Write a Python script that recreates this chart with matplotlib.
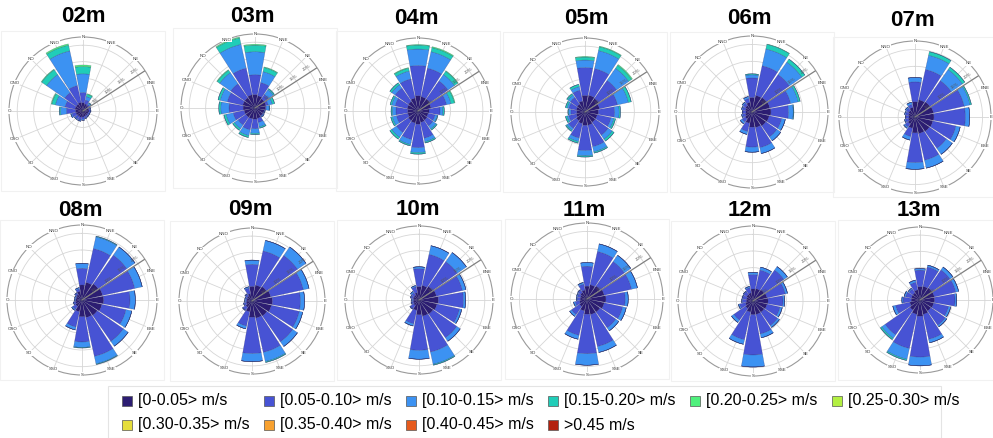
import numpy as np
import matplotlib
matplotlib.use('Agg')
import matplotlib.pyplot as plt
from matplotlib.lines import Line2D
from matplotlib.patches import Rectangle

plt.rcParams['font.family'] = ['Liberation Sans', 'DejaVu Sans']

months = ['02m', '03m', '04m', '05m', '06m', '07m',
          '08m', '09m', '10m', '11m', '12m', '13m']
directions = ['N', 'NNE', 'NE', 'ENE', 'E', 'ESE', 'SE', 'SSE',
              'S', 'SSO', 'SO', 'OSO', 'O', 'ONO', 'NO', 'NNO']
speed_bins = ['[0-0.05> m/s', '[0.05-0.10> m/s', '[0.10-0.15> m/s',
              '[0.15-0.20> m/s', '[0.20-0.25> m/s', '[0.25-0.30> m/s',
              '[0.30-0.35> m/s', '[0.35-0.40> m/s', '[0.40-0.45> m/s',
              '>0.45 m/s']
bin_colors = ['#2c1d72', '#4753d4', '#3c92f2', '#20cdb8', '#4ff07c',
              '#b3f041', '#e6de3c', '#f8a12f', '#e65a1d', '#b3220f']

# cumulative frequency (%) per direction of currents slower than the upper
# limit of each speed bin, one row per depth
below_005 = [
    [2.5, 2.2, 2.0, 1.8, 1.8, 1.6, 1.6, 1.6, 1.8, 2.0, 2.0, 2.2, 2.3, 2.5, 2.5, 2.7],
    [4.1, 3.8, 3.4, 3.4, 3.2, 2.9, 2.9, 3.2, 3.4, 3.4, 3.4, 3.4, 3.6, 3.8, 3.8, 4.1],
    [4.7, 4.5, 4.5, 4.1, 3.4, 3.2, 3.4, 3.6, 4.1, 3.8, 3.6, 3.2, 3.2, 3.4, 3.6, 4.1],
    [5.0, 5.2, 5.0, 4.5, 4.1, 3.8, 3.8, 4.1, 4.1, 3.6, 3.2, 2.7, 2.5, 2.7, 2.9, 3.4],
    [4.3, 5.0, 5.2, 5.4, 5.6, 5.2, 5.0, 4.7, 4.5, 3.4, 2.5, 2.0, 1.8, 2.0, 2.3, 2.9],
    [4.5, 5.2, 5.4, 5.6, 5.6, 5.4, 5.2, 5.0, 4.7, 3.4, 2.5, 2.0, 1.8, 2.0, 2.3, 2.9],
    [4.5, 5.4, 5.9, 6.3, 6.5, 6.1, 5.6, 5.4, 5.0, 3.6, 2.3, 2.0, 1.8, 1.8, 2.0, 2.7],
    [4.5, 5.0, 5.4, 5.9, 6.3, 6.1, 5.6, 5.4, 5.0, 3.4, 2.3, 1.8, 1.6, 1.6, 1.8, 2.3],
    [4.1, 4.5, 5.0, 5.4, 5.9, 5.6, 5.2, 5.0, 4.5, 3.2, 2.0, 1.8, 1.6, 1.8, 1.8, 2.3],
    [3.8, 4.3, 4.7, 5.2, 5.6, 5.2, 4.7, 4.7, 4.5, 3.6, 2.7, 2.3, 2.0, 2.0, 2.3, 2.7],
    [3.6, 3.8, 4.1, 4.3, 4.5, 4.3, 4.1, 4.1, 4.1, 3.4, 2.7, 2.3, 2.0, 2.0, 2.3, 2.5],
    [4.1, 4.3, 4.5, 4.5, 4.5, 4.3, 4.1, 4.5, 5.0, 4.5, 3.8, 3.2, 2.7, 2.7, 2.7, 3.2],
]
below_010 = [
    [5.6, 3.4, 2.5, 2.2, 2.2, 2.0, 2.0, 2.2, 2.5, 2.9, 2.9, 3.4, 5.0, 5.6, 6.8, 7.9],
    [10.1, 7.9, 5.0, 4.1, 3.4, 3.0, 3.1, 4.5, 6.3, 6.8, 6.3, 6.8, 7.9, 8.6, 9.0, 12.4],
    [14.0, 13.5, 11.3, 9.0, 6.8, 5.4, 5.6, 8.6, 11.3, 9.0, 8.1, 6.8, 6.8, 7.2, 8.6, 10.1],
    [13.5, 13.5, 11.7, 10.1, 9.0, 8.1, 8.6, 10.8, 11.7, 8.1, 6.1, 5.0, 4.3, 5.0, 5.4, 6.8],
    [10.1, 14.0, 13.5, 11.7, 10.8, 9.0, 9.0, 10.8, 10.4, 5.9, 3.6, 2.9, 2.7, 2.9, 3.2, 4.1],
    [10.4, 14.4, 13.1, 14.9, 14.9, 12.4, 11.3, 13.1, 13.5, 5.9, 3.6, 2.9, 2.7, 2.9, 3.2, 3.8],
    [9.5, 15.8, 16.4, 16.2, 14.4, 13.5, 15.1, 17.3, 12.6, 8.3, 3.4, 2.5, 2.0, 2.0, 2.5, 3.4],
    [11.3, 15.8, 17.1, 16.2, 14.9, 14.9, 15.3, 16.2, 16.2, 7.9, 3.4, 2.5, 2.0, 2.0, 2.5, 4.1],
    [9.5, 14.2, 14.2, 13.5, 13.5, 12.6, 14.0, 16.2, 15.3, 7.4, 3.2, 2.3, 2.0, 2.5, 2.7, 4.1],
    [9.7, 14.4, 13.5, 13.5, 11.3, 10.8, 10.4, 14.4, 16.2, 11.0, 5.6, 3.6, 2.9, 2.9, 3.2, 4.5],
    [7.9, 9.5, 11.3, 9.9, 9.0, 8.3, 9.0, 10.1, 16.2, 11.9, 7.0, 4.1, 3.2, 3.2, 3.4, 4.1],
    [9.2, 10.4, 11.3, 11.3, 10.8, 9.0, 9.5, 12.4, 17.6, 15.3, 13.1, 7.7, 5.2, 4.5, 4.1, 5.6],
]
below_015 = [
    [11.3, 4.5, 2.9, 2.4, 2.4, 2.2, 2.2, 2.4, 2.8, 3.2, 3.2, 3.8, 6.8, 8.6, 13.5, 18.7],
    [17.1, 11.3, 6.8, 5.4, 4.3, 3.2, 3.4, 5.9, 7.7, 8.6, 7.7, 9.0, 10.4, 10.8, 13.1, 19.8],
    [19.1, 18.7, 13.7, 10.4, 7.7, 6.1, 6.8, 9.7, 12.8, 10.6, 9.9, 8.1, 7.9, 8.3, 9.9, 12.6],
    [15.8, 19.1, 16.2, 13.5, 10.4, 9.0, 10.1, 12.4, 13.3, 9.2, 6.8, 5.6, 5.0, 5.6, 6.3, 7.9],
    [11.0, 19.1, 18.0, 14.0, 12.2, 10.1, 10.4, 12.6, 11.9, 6.8, 4.3, 3.2, 2.9, 3.2, 3.6, 4.7],
    [11.7, 18.7, 17.1, 16.7, 16.2, 13.7, 13.5, 15.5, 15.5, 7.0, 4.1, 3.2, 2.9, 3.2, 3.6, 4.5],
    [11.0, 19.4, 19.4, 18.5, 16.0, 15.3, 16.9, 19.6, 14.2, 9.2, 3.8, 2.7, 2.3, 2.3, 2.7, 3.8],
    [12.6, 19.1, 20.3, 18.0, 16.2, 16.0, 17.1, 19.1, 18.7, 8.8, 3.6, 2.7, 2.3, 2.3, 2.7, 4.5],
    [10.1, 16.9, 17.6, 14.6, 14.2, 13.3, 15.3, 20.0, 18.0, 8.1, 3.4, 2.5, 2.3, 2.7, 3.2, 4.5],
    [10.8, 16.7, 15.8, 15.3, 12.2, 11.9, 11.5, 16.2, 19.6, 12.2, 6.3, 4.1, 3.2, 3.2, 3.4, 5.0],
    [8.6, 10.4, 12.6, 10.6, 9.5, 9.0, 9.7, 11.3, 19.8, 13.3, 7.9, 4.5, 3.4, 3.4, 3.6, 4.5],
    [9.7, 11.0, 12.4, 12.2, 11.3, 9.7, 10.1, 13.5, 20.3, 18.7, 14.4, 8.6, 5.6, 5.0, 4.5, 6.3],
]
below_020 = [
    [13.5, 5.2, 3.1, 2.4, 2.4, 2.2, 2.2, 2.4, 2.8, 3.2, 3.2, 3.8, 7.2, 9.7, 15.3, 20.5],
    [19.1, 12.6, 7.2, 6.1, 4.5, 3.2, 3.4, 6.3, 8.1, 9.2, 8.3, 9.7, 11.0, 11.5, 14.0, 21.8],
    [20.3, 20.0, 14.9, 11.5, 8.1, 6.3, 7.2, 10.1, 13.3, 11.0, 10.6, 8.6, 8.3, 8.8, 10.6, 13.5],
    [16.7, 20.3, 17.3, 14.4, 10.8, 9.5, 10.8, 12.8, 13.7, 9.7, 7.2, 6.1, 5.2, 6.1, 6.8, 8.6],
    [11.3, 20.5, 19.1, 14.6, 12.4, 10.1, 10.4, 12.6, 11.9, 6.8, 4.3, 3.2, 2.9, 3.2, 3.6, 4.7],
    [11.7, 19.8, 18.0, 17.1, 16.2, 13.7, 13.5, 15.5, 15.5, 7.0, 4.1, 3.2, 2.9, 3.2, 3.6, 4.5],
    [11.0, 19.6, 19.4, 18.5, 16.0, 15.3, 16.9, 19.8, 14.4, 9.2, 3.8, 2.7, 2.3, 2.3, 2.7, 3.8],
    [12.6, 19.1, 20.3, 18.0, 16.2, 16.0, 17.1, 19.4, 18.7, 8.8, 3.6, 2.7, 2.3, 2.3, 2.7, 4.5],
    [10.1, 16.9, 17.6, 14.6, 14.2, 13.3, 15.3, 20.3, 18.0, 8.1, 3.4, 2.5, 2.3, 2.7, 3.2, 4.5],
    [10.8, 16.7, 15.8, 15.3, 12.2, 11.9, 11.5, 16.2, 19.6, 12.2, 6.3, 4.1, 3.2, 3.2, 3.4, 5.0],
    [8.6, 10.4, 12.6, 10.6, 9.5, 9.0, 9.7, 11.3, 19.8, 13.3, 7.9, 4.5, 3.4, 3.4, 3.6, 4.5],
    [9.7, 11.0, 12.4, 12.2, 11.3, 9.7, 10.1, 13.5, 20.3, 19.1, 14.9, 8.6, 5.6, 5.0, 4.5, 6.3],
]
below_025 = [
    [14.0, 5.4, 3.1, 2.4, 2.4, 2.2, 2.2, 2.4, 2.8, 3.2, 3.2, 3.8, 7.2, 9.9, 15.5, 20.9],
    [19.4, 12.8, 7.2, 6.1, 4.5, 3.2, 3.4, 6.3, 8.1, 9.2, 8.3, 9.7, 11.0, 11.5, 14.2, 22.1],
    [20.5, 20.3, 15.1, 11.7, 8.1, 6.3, 7.2, 10.1, 13.3, 11.0, 10.6, 8.6, 8.3, 8.8, 10.6, 13.7],
    [16.9, 20.5, 17.6, 14.4, 10.8, 9.5, 10.8, 12.8, 13.7, 9.7, 7.2, 6.1, 5.2, 6.1, 6.8, 8.6],
    [11.3, 20.6, 19.1, 14.6, 12.4, 10.1, 10.4, 12.6, 11.9, 6.8, 4.3, 3.2, 2.9, 3.2, 3.6, 4.7],
    [11.7, 19.8, 18.0, 17.1, 16.2, 13.7, 13.5, 15.5, 15.5, 7.0, 4.1, 3.2, 2.9, 3.2, 3.6, 4.5],
    [11.0, 19.6, 19.4, 18.5, 16.0, 15.3, 16.9, 19.8, 14.4, 9.2, 3.8, 2.7, 2.3, 2.3, 2.7, 3.8],
    [12.6, 19.1, 20.3, 18.0, 16.2, 16.0, 17.1, 19.4, 18.7, 8.8, 3.6, 2.7, 2.3, 2.3, 2.7, 4.5],
    [10.1, 16.9, 17.6, 14.6, 14.2, 13.3, 15.3, 20.3, 18.0, 8.1, 3.4, 2.5, 2.3, 2.7, 3.2, 4.5],
    [10.8, 16.7, 15.8, 15.3, 12.2, 11.9, 11.5, 16.2, 19.6, 12.2, 6.3, 4.1, 3.2, 3.2, 3.4, 5.0],
    [8.6, 10.4, 12.6, 10.6, 9.5, 9.0, 9.7, 11.3, 19.8, 13.3, 7.9, 4.5, 3.4, 3.4, 3.6, 4.5],
    [9.7, 11.0, 12.4, 12.2, 11.3, 9.7, 10.1, 13.5, 20.3, 19.1, 14.9, 8.6, 5.6, 5.0, 4.5, 6.3],
]
ring_values = [5, 10, 15, 20]

W, H = 993, 438
fig = plt.figure(figsize=(W / 100, H / 100), dpi=100)

# rose centre x, centre y (from top) and radius in pixels
rose_boxes = [(83, 111, 74), (255, 108, 74), (418, 111, 73), (585, 112, 74),
              (752, 112, 76), (915, 117, 76),
              (82, 300, 75), (252, 301, 73), (419, 300, 74), (587, 299, 76),
              (753, 301, 75), (920, 300, 73)]
title_xy = [(83, 17), (252, 17), (416, 18), (586, 18), (749, 18), (912, 21),
            (80, 211), (250, 210), (418, 210), (584, 211), (750, 211), (919, 211)]

layers = [below_005, below_010, below_015, below_020, below_025]
theta = np.deg2rad(np.arange(len(directions)) * 22.5)
bar_w = np.deg2rad(22.5) * 0.9
rmax = 22.5
label_ang = np.deg2rad(57)

for m, name in enumerate(months):
    cx, cy, R = rose_boxes[m]
    fig.add_artist(Rectangle(((cx - 82) / W, (H - cy - 80) / H), 164 / W, 160 / H,
                             transform=fig.transFigure, fill=False,
                             ec='#f1f1f1', lw=0.8))
    ax = fig.add_axes([(cx - R) / W, (H - cy - R) / H, 2 * R / W, 2 * R / H],
                      projection='polar')
    ax.set_theta_zero_location('N')
    ax.set_theta_direction(-1)

    bottom = np.zeros(len(directions))
    for k, lay in enumerate(layers):
        top = np.array(lay[m])
        ax.bar(theta, top - bottom, width=bar_w, bottom=bottom,
               color=bin_colors[k], edgecolor=(0.12, 0.12, 0.35, 0.45),
               lw=0.3, zorder=3)
        bottom = top

    ax.set_ylim(0, rmax)
    ax.set_yticks(ring_values)
    ax.set_yticklabels([])
    ax.set_xticks(theta)
    ax.set_xticklabels([])
    ax.grid(color='#d6d6d6', lw=0.6)
    ax.set_axisbelow(True)
    ax.spines['polar'].set_color('#9a9a9a')
    ax.spines['polar'].set_linewidth(0.8)

    for t, d in zip(theta, directions):
        ax.text(t, rmax, d, fontsize=3.2, ha='center', va='center', color='#333',
                bbox=dict(fc='white', ec='none', pad=0.4), zorder=6, clip_on=False)

    ax.plot([label_ang, label_ang], [0, rmax], color='#808080', lw=0.9, zorder=4)
    for r in ring_values:
        ax.text(label_ang - np.deg2rad(5), r, f'{r}%', fontsize=3.2, rotation=33,
                ha='center', va='center', color='#555', zorder=5)

    tx, ty = title_xy[m]
    fig.text(tx / W, 1 - ty / H, name, fontsize=16, fontweight='bold',
             ha='center', va='center')

# legend
fig.add_artist(Rectangle((108 / W, 0), 833 / W, 52 / H, transform=fig.transFigure,
                         fill=False, ec='#e4e4e4', lw=0.8))
for i, (lab, c) in enumerate(zip(speed_bins, bin_colors)):
    row, col = divmod(i, 6)
    x = 127 + 142 * col
    y = 401 + 24 * row
    fig.add_artist(Line2D([x / W], [1 - y / H], marker='s', ms=6.5, mfc=c,
                          mec='#555555', mew=0.5, ls='none',
                          transform=fig.transFigure))
    fig.text((x + 11) / W, 1 - y / H, lab, fontsize=11.5, ha='left', va='center')

fig.savefig('out.png', dpi=100)
